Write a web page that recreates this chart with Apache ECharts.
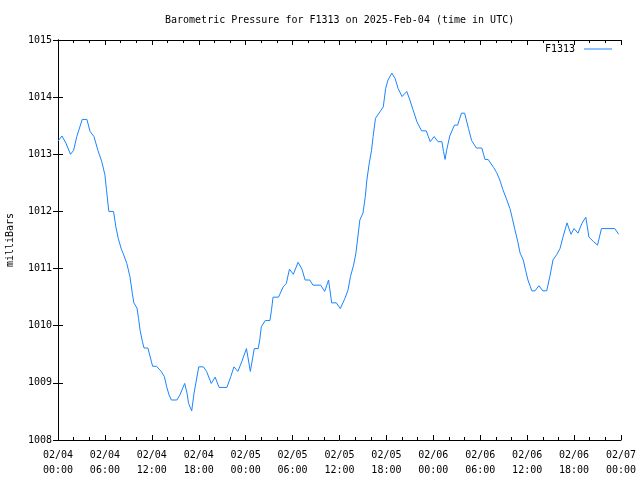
<!DOCTYPE html>
<html>
<head>
<meta charset="utf-8">
<script src="https://cdn.jsdelivr.net/npm/echarts@6/dist/echarts.min.js"></script>
<style>html,body{margin:0;padding:0;background:#fff}#c{width:640px;height:480px}</style>
</head>
<body>
<div id="c"></div>
<script>
// hours since 2025-02-04 00:00 UTC
const hours = [0.0,0.5,1.0,1.6,2.0,2.4,3.1,3.7,4.1,4.6,5.1,5.6,6.0,6.2,6.5,7.1,7.4,7.7,8.1,8.4,8.8,9.2,9.5,9.7,10.1,10.3,10.5,10.8,11.0,11.5,12.1,12.6,13.2,13.6,13.9,14.2,14.5,15.2,15.6,16.2,16.5,16.7,17.1,17.4,17.7,18.0,18.6,19.0,19.6,20.1,20.6,21.6,22.1,22.5,23.0,23.5,24.1,24.6,25.1,25.6,25.8,26.0,26.5,27.1,27.3,27.5,28.2,28.8,29.2,29.6,30.1,30.7,31.2,31.6,32.2,32.6,33.6,34.1,34.6,35.0,35.6,36.1,36.7,37.1,37.4,37.8,38.1,38.3,38.6,39.0,39.3,39.5,39.8,40.1,40.3,40.6,41.2,41.6,41.9,42.2,42.7,43.1,43.5,44.0,44.6,45.0,45.4,45.9,46.5,47.1,47.6,48.1,48.6,49.1,49.3,49.5,49.7,50.1,50.7,51.1,51.6,52.0,52.5,52.9,53.5,54.2,54.6,55.0,55.7,56.1,56.5,56.9,57.4,57.8,58.1,58.4,58.8,59.1,59.5,59.8,60.1,60.6,61.0,61.5,62.0,62.5,62.9,63.3,63.8,64.2,64.6,65.1,65.6,66.0,66.5,67.0,67.5,67.9,68.5,69.0,69.5,71.2,71.7];
const pressure = [1013.23,1013.32,1013.2,1013.0,1013.07,1013.31,1013.61,1013.61,1013.4,1013.31,1013.07,1012.87,1012.64,1012.38,1012.0,1012.0,1011.73,1011.53,1011.34,1011.24,1011.09,1010.86,1010.57,1010.4,1010.31,1010.13,1009.92,1009.72,1009.61,1009.61,1009.29,1009.29,1009.2,1009.11,1008.93,1008.79,1008.7,1008.7,1008.79,1008.99,1008.82,1008.64,1008.51,1008.82,1009.05,1009.28,1009.28,1009.2,1008.99,1009.1,1008.92,1008.92,1009.11,1009.28,1009.2,1009.37,1009.6,1009.2,1009.6,1009.6,1009.75,1009.98,1010.09,1010.09,1010.27,1010.5,1010.5,1010.68,1010.74,1010.99,1010.9,1011.11,1010.99,1010.8,1010.8,1010.71,1010.71,1010.6,1010.8,1010.4,1010.4,1010.3,1010.48,1010.63,1010.86,1011.06,1011.27,1011.5,1011.85,1011.97,1012.26,1012.55,1012.84,1013.07,1013.31,1013.63,1013.75,1013.83,1014.15,1014.3,1014.42,1014.33,1014.15,1014.01,1014.1,1013.95,1013.78,1013.57,1013.41,1013.41,1013.22,1013.31,1013.22,1013.22,1013.05,1012.91,1013.07,1013.32,1013.51,1013.51,1013.72,1013.72,1013.45,1013.24,1013.11,1013.11,1012.91,1012.91,1012.77,1012.68,1012.55,1012.38,1012.2,1012.05,1011.88,1011.7,1011.47,1011.27,1011.15,1010.97,1010.8,1010.61,1010.61,1010.7,1010.61,1010.61,1010.86,1011.15,1011.25,1011.35,1011.56,1011.8,1011.6,1011.7,1011.62,1011.79,1011.9,1011.55,1011.47,1011.41,1011.7,1011.7,1011.6];
const xTickLabels = ['02/04\n00:00','02/04\n06:00','02/04\n12:00','02/04\n18:00','02/05\n00:00','02/05\n06:00','02/05\n12:00','02/05\n18:00','02/06\n00:00','02/06\n06:00','02/06\n12:00','02/06\n18:00','02/07\n00:00'];
const seriesName = 'F1313';
const titleText = 'Barometric Pressure for F1313 on 2025-Feb-04 (time in UTC)';
const yName = 'milliBars';

const FONT = 'DejaVu Sans Mono';
const chart = echarts.init(document.getElementById('c'), null, {renderer: 'canvas'});
const axisLine = {show: true, lineStyle: {color: '#000', width: 1}};
const xCommon = {
  type: 'value', min: 0, max: 72, interval: 6,
  axisLine: axisLine,
  axisTick: {show: true, inside: true, length: 5, lineStyle: {color: '#000'}},
  minorTick: {show: true, splitNumber: 3, length: 3, lineStyle: {color: '#000'}},
  splitLine: {show: false}, minorSplitLine: {show: false}
};
const yCommon = {
  type: 'value', min: 1008, max: 1015, interval: 1,
  axisLine: axisLine,
  axisTick: {show: true, inside: true, length: 5, lineStyle: {color: '#000'}},
  splitLine: {show: false}
};
chart.setOption({
  animation: false,
  backgroundColor: '#fff',
  title: {text: titleText, left: 165, top: 15, padding: 0,
    textStyle: {fontFamily: FONT, fontSize: 10, fontWeight: 'normal', color: '#000'}},
  legend: {show: true, right: 28, top: 44, padding: 0, align: 'right', itemWidth: 28, itemHeight: 1,
    icon: 'rect', itemGap: 0,
    textStyle: {fontFamily: FONT, fontSize: 10, color: '#000', padding: [0, 4, 0, 0]},
    data: [seriesName]},
  grid: {left: 58, right: 19, top: 40, bottom: 40, containLabel: false, outerBoundsMode: 'none'},
  xAxis: [
    Object.assign({}, xCommon, {position: 'bottom',
      axisLabel: {show: true, fontFamily: FONT, fontSize: 10, color: '#000', lineHeight: 15, margin: 8,
        hideOverlap: false, formatter: v => xTickLabels[Math.round(v / 6)]}}),
    Object.assign({}, xCommon, {position: 'top', axisLabel: {show: false}})
  ],
  yAxis: [
    Object.assign({}, yCommon, {position: 'left', name: yName, nameLocation: 'middle', nameRotate: 90, nameGap: 43,
      nameTextStyle: {fontFamily: FONT, fontSize: 10, color: '#000'},
      axisLabel: {show: true, fontFamily: FONT, fontSize: 10, color: '#000', margin: 6,
        formatter: v => String(v)}}),
    Object.assign({}, yCommon, {position: 'right', axisLabel: {show: false}})
  ],
  series: [{
    name: seriesName, type: 'line', symbol: 'none', showSymbol: false,
    xAxisIndex: 0, yAxisIndex: 0,
    lineStyle: {width: 1, color: '#1a85ff'}, itemStyle: {color: '#1a85ff'},
    data: hours.map((h, i) => [h, pressure[i]])
  }]
});
</script>
</body>
</html>
